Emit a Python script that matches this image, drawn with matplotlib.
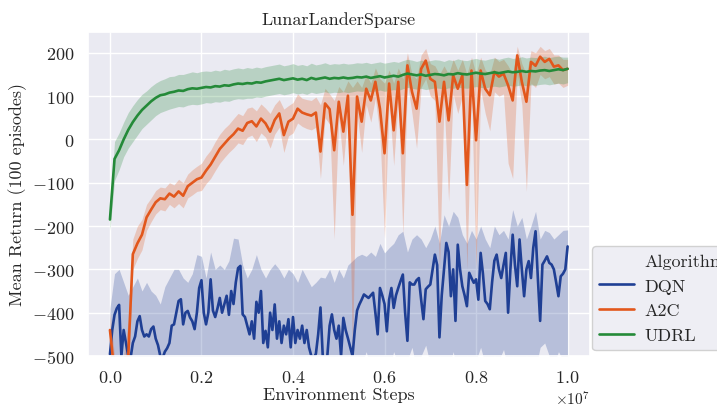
import numpy as np
import seaborn as sns
import matplotlib
matplotlib.use("Agg")
import matplotlib.pyplot as plt
from matplotlib.lines import Line2D

# steps, in units of 1e7
steps_fine = np.round(np.arange(0, 1.0001, 0.005), 3) * 1e7
steps = np.round(np.arange(0, 1.0001, 0.01), 2) * 1e7

dqn_mean = [
    -496, -440, -405, -390, -382, -500, -440, -470, -500, -505,
    -470, -455, -420, -408, -440, -455, -450, -455, -438, -432,
    -460, -475, -500, -505, -490, -482, -470, -430, -427, -400,
    -373, -369, -427, -400, -396, -411, -420, -438, -400, -343,
    -325, -400, -427, -400, -323, -395, -410, -390, -366, -400,
    -380, -361, -405, -350, -380, -330, -297, -292, -404, -410,
    -430, -450, -420, -460, -375, -400, -350, -470, -442, -480,
    -400, -440, -381, -460, -420, -470, -430, -450, -415, -480,
    -410, -470, -440, -460, -430, -470, -440, -480, -500, -505,
    -495, -450, -388, -500, -505, -500, -430, -404, -440, -460,
    -430, -500, -412, -440, -459, -480, -500, -440, -395, -381,
    -370, -358, -362, -366, -360, -354, -400, -450, -343, -360,
    -380, -443, -370, -343, -389, -360, -343, -327, -312, -400,
    -465, -330, -335, -335, -325, -320, -370, -415, -346, -340,
    -335, -300, -266, -290, -457, -360, -300, -239, -260, -362,
    -300, -419, -243, -300, -339, -360, -385, -308, -320, -331,
    -323, -370, -262, -310, -373, -380, -392, -330, -280, -266,
    -300, -320, -290, -262, -400, -300, -220, -290, -339, -231,
    -300, -362, -300, -281, -320, -250, -212, -320, -419, -289,
    -280, -270, -285, -289, -300, -330, -362, -316, -310, -300,
    -247,
]
dqn_upper = [
    -390, -310, -300, -330, -360, -340, -320, -350, -330, -350,
    -360, -380, -340, -320, -300, -300, -320, -330, -310, -266,
    -270, -320, -260, -300, -290, -300, -280, -228, -230, -290,
    -320, -300, -266, -300, -320, -300, -287, -300, -320, -300,
    -310, -330, -300, -320, -340, -330, -318, -320, -300, -330,
    -300, -320, -290, -280, -270, -265, -270, -260, -270, -240,
    -262, -250, -240, -220, -212, -260, -230, -220, -230, -250,
    -230, -200, -240, -174, -200, -166, -180, -220, -240, -210,
    -230, -200, -230, -250, -200, -220, -210, -230, -162, -200,
    -180, -230, -200, -166, -230, -210, -215, -230, -220, -210,
    -209,
]
dqn_lower = [
    -560, -560, -560, -560, -560, -560, -560, -560, -560, -560,
    -560, -560, -560, -560, -560, -560, -560, -560, -560, -560,
    -560, -560, -560, -560, -560, -560, -560, -560, -560, -560,
    -560, -560, -560, -560, -560, -560, -560, -560, -560, -560,
    -560, -560, -560, -560, -560, -560, -560, -560, -560, -560,
    -540, -560, -520, -540, -500, -520, -490, -530, -510, -540,
    -500, -530, -490, -520, -540, -510, -480, -530, -500, -475,
    -520, -540, -500, -510, -530, -490, -540, -520, -500, -530,
    -510, -480, -520, -540, -500, -510, -485, -530, -500, -520,
    -540, -500, -510, -530, -480, -470, -500, -520, -490, -510,
    -500,
]

a2c_mean = [
    -440, -540, -560, -540, -500, -265, -240, -220, -180, -162,
    -145, -136, -138, -125, -132, -120, -130, -108, -100, -92,
    -88, -72, -58, -40, -22, -10, 2, 12, 25, 20,
    38, 42, 30, 48, 37, 18, 45, 60, 10, 41,
    48, 71, 62, 58, 55, 62, -28, 83, 70, -25,
    87, 18, 101, -174, 99, 41, 117, 90, 133, 71,
    -32, 129, 21, 133, -32, 171, 110, 71, 163, 182,
    140, 133, 41, 133, 44, 148, 117, 148, -105, 159,
    -2, 159, 117, 102, 156, 145, 152, 125, 90, 194,
    133, 87, 179, 170, 191, 179, 186, 168, 171, 160,
    163,
]
a2c_upper = [
    -400, -500, -520, -500, -420, -230, -200, -185, -150, -135,
    -118, -110, -112, -100, -105, -92, -100, -80, -70, -62,
    -55, -38, -25, -5, 12, 25, 35, 48, 60, 55,
    72, 75, 66, 82, 72, 60, 80, 92, 70, 78,
    85, 105, 95, 92, 90, 98, 80, 118, 105, 90,
    122, 110, 135, 120, 135, 120, 150, 130, 165, 140,
    130, 160, 130, 165, 140, 200, 150, 140, 195, 210,
    175, 170, 150, 170, 150, 185, 160, 185, 150, 190,
    150, 190, 160, 150, 190, 180, 185, 170, 150, 215,
    175, 150, 205, 200, 215, 205, 210, 195, 195, 185,
    185,
]
a2c_lower = [
    -480, -580, -600, -580, -560, -300, -275, -255, -210, -190,
    -172, -162, -165, -150, -158, -148, -158, -135, -128, -120,
    -118, -102, -90, -72, -55, -42, -30, -20, -8, -12,
    5, 10, -5, 15, 5, -20, 12, 28, -30, 8,
    15, 38, 30, 25, 22, 28, -90, 50, 35, -230,
    52, -60, 65, -500, 60, -30, 80, 40, 95, 10,
    -228, 90, -60, 95, -220, 130, 60, -20, 120, 140,
    100, 90, -300, 90, -143, 105, 60, 100, -300, 110,
    -300, 115, 60, 20, 110, 100, 105, -55, -90, 150,
    80, -120, 130, 120, 150, 140, 145, 128, 130, 120,
    125,
]

udrl_mean = [
    -185, -45, -25, 0, 22, 40, 55, 68, 78, 88,
    96, 102, 104, 108, 110, 113, 112, 116, 118, 117,
    119, 121, 120, 123, 122, 125, 124, 127, 129, 128,
    130, 129, 132, 131, 134, 136, 138, 140, 137, 139,
    141, 138, 140, 137, 142, 139, 141, 143, 140, 142,
    141, 143, 141, 142, 144, 143, 145, 142, 144, 146,
    143, 145, 147, 145, 149, 152, 150, 148, 150, 147,
    149, 151, 150, 148, 151, 150, 153, 151, 150, 152,
    154, 152, 151, 153, 155, 153, 155, 157, 155, 156,
    158, 156, 158, 157, 159, 160, 158, 160, 162, 160,
    163,
]
udrl_upper = [
    -160, -5, 15, 40, 62, 78, 92, 104, 112, 122,
    130, 136, 140, 145, 146, 150, 150, 153, 156, 154,
    157, 158, 157, 160, 158, 162, 160, 163, 165, 163,
    166, 164, 167, 165, 168, 170, 172, 174, 170, 172,
    175, 171, 173, 170, 176, 172, 174, 177, 173, 175,
    174, 176, 174, 175, 177, 176, 178, 175, 177, 179,
    176, 178, 180, 178, 182, 185, 183, 180, 183, 180,
    182, 184, 183, 180, 184, 182, 186, 183, 182, 185,
    187, 184, 183, 186, 188, 185, 188, 190, 187, 188,
    191, 188, 190, 189, 191, 192, 189, 191, 192, 190,
    190,
]
udrl_lower = [
    -210, -95, -70, -40, -20, -5, 10, 25, 35, 45,
    55, 62, 66, 70, 73, 76, 75, 79, 81, 80,
    82, 85, 84, 87, 86, 89, 88, 92, 94, 93,
    95, 95, 98, 97, 100, 102, 104, 106, 103, 105,
    108, 105, 107, 104, 109, 106, 108, 110, 107, 109,
    108, 110, 108, 110, 112, 111, 113, 110, 112, 114,
    111, 113, 115, 113, 117, 120, 118, 116, 118, 115,
    117, 119, 118, 116, 119, 118, 121, 119, 118, 120,
    122, 120, 119, 121, 123, 121, 123, 125, 123, 124,
    126, 124, 126, 125, 127, 128, 126, 128, 130, 128,
    131,
]

labels = ["DQN", "A2C", "UDRL"]
colors = ["#1f3f94", "#e2571c", "#248a38"]

sns.set_theme(style="darkgrid")
plt.rcParams["font.family"] = ["cmr10", "DejaVu Serif"]
plt.rcParams["mathtext.fontset"] = "cm"
plt.rcParams["axes.formatter.use_mathtext"] = True
plt.rcParams["font.size"] = 13

fig = plt.figure(figsize=(7.17, 4.10), dpi=100)
ax = fig.add_axes([0.1227, 0.1293, 0.7002, 0.7902])

series = [
    (steps_fine, dqn_mean, steps, dqn_lower, dqn_upper),
    (steps, a2c_mean, steps, a2c_lower, a2c_upper),
    (steps, udrl_mean, steps, udrl_lower, udrl_upper),
]
for (x, m, xb, lo, hi), lab, c in zip(series, labels, colors):
    ax.fill_between(xb, lo, hi, color=c, alpha=0.25, linewidth=0)
    ax.plot(x, m, color=c, lw=1.9, label=lab)

ax.set_ylim(-500, 248)
ax.set_xlim(-0.048e7, 1.049e7)
ax.set_xticks([0, 0.2e7, 0.4e7, 0.6e7, 0.8e7, 1.0e7])
ax.set_yticks([-500, -400, -300, -200, -100, 0, 100, 200])
ax.tick_params(labelsize=13)
ax.set_title("LunarLanderSparse", fontsize=13)
ax.set_xlabel("Environment Steps", fontsize=13, labelpad=1)
ax.set_ylabel("Mean Return (100 episodes)", fontsize=13)

handles = [Line2D([], [], color="none")]
handles += [Line2D([], [], color=c, lw=1.9) for c in colors]
leg = ax.legend(handles, ["Algorithm"] + labels, loc="lower left",
                bbox_to_anchor=(1.004, 0.018), borderaxespad=0,
                fontsize=13, frameon=True, handlelength=1.9,
                handletextpad=0.6)
leg.get_frame().set_facecolor("#eaeaf2")
leg.get_frame().set_edgecolor("#c8c8c8")

fig.savefig("out.png", dpi=100)
